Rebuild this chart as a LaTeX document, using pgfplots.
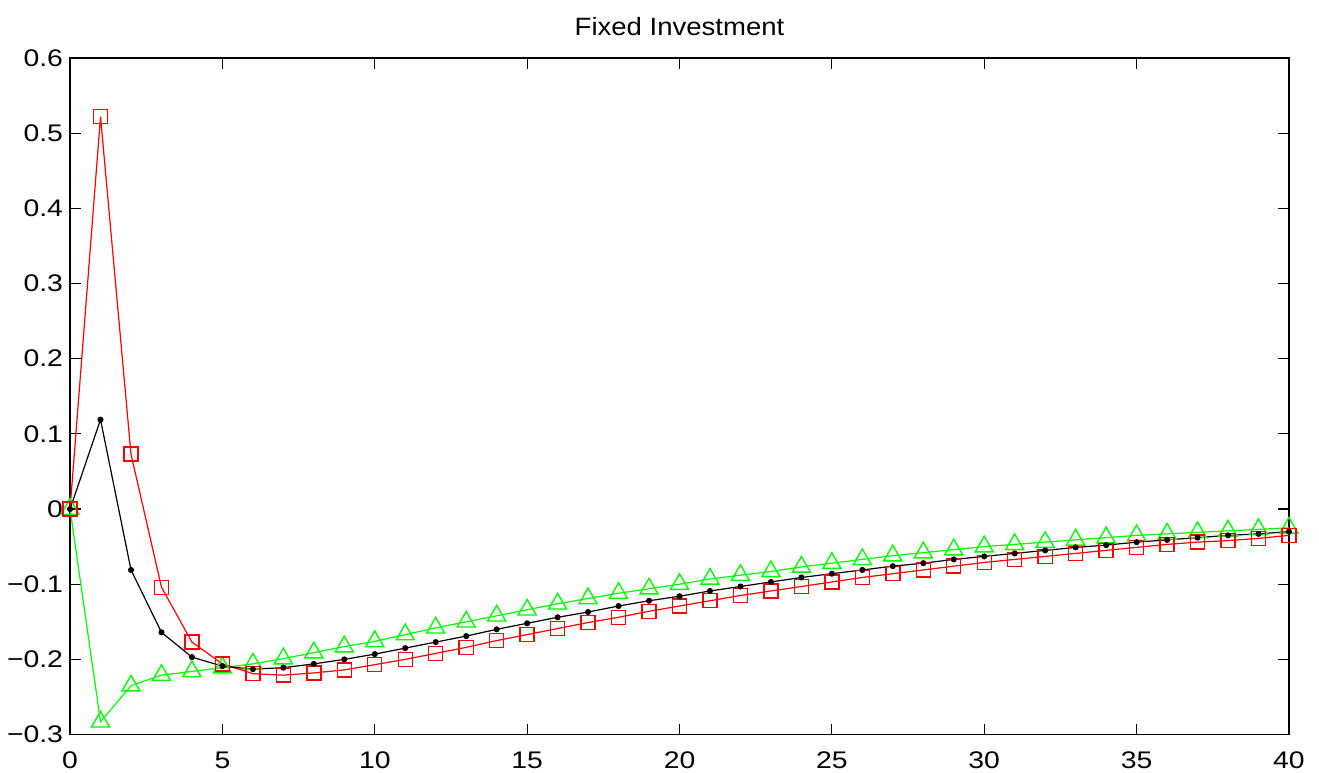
\documentclass[border=0pt]{standalone}
\usepackage{pgfplots}
\pgfplotsset{compat=1.18}
\usepackage{fontspec}
\setmainfont{Liberation Sans}
\newfontfamily\tickfont{Liberation Sans}[FakeStretch=1.18]
\newfontfamily\titlefont{Liberation Sans}[FakeStretch=1.1]
\definecolor{mred}{RGB}{255,0,0}
\definecolor{mgreen}{RGB}{0,255,0}
\begin{document}
\begin{tikzpicture}
\path[use as bounding box] (-35pt,-19pt) rectangle (624pt,367pt);
\begin{axis}[
  at={(0,0)}, anchor=south west,
  scale only axis,
  width=609pt, height=338pt,
  xmin=0, xmax=40, ymin=-0.3, ymax=0.6,
  xtick={0,5,...,40},
  xticklabels={0,5,10,15,20,25,30,35,40},
  ytick={-0.3,-0.2,-0.1,0,0.1,0.2,0.3,0.4,0.5,0.6},
  yticklabels={−0.3,−0.2,−0.1,0,0.1,0.2,0.3,0.4,0.5,0.6},
  tick align=inside,
  major tick length=5.5pt,
  minor tick num=0,
  axis line style={line width=0.8pt},
  every tick/.style={black, line width=0.6pt},
  tick label style={font=\tickfont\fontsize{12}{14}\selectfont},
  /pgf/number format/assume math mode=true,
  xticklabel style={yshift=-5pt},
  title={Fixed Investment},
  title style={font=\titlefont\fontsize{12.5}{14}\selectfont, yshift=1.5pt},
  clip=false,
]
\addplot[mgreen, line width=0.6pt, mark=triangle, mark size=5.2pt, mark options={solid, draw=mgreen, fill=none, line width=0.7pt}] coordinates {
(0,0) (1,-0.283) (2,-0.235) (3,-0.221) (4,-0.216) (5,-0.211) (6,-0.206) (7,-0.199) (8,-0.191) (9,-0.183)
(10,-0.176) (11,-0.167) (12,-0.158) (13,-0.150) (14,-0.142) (15,-0.134) (16,-0.126) (17,-0.119) (18,-0.112) (19,-0.106)
(20,-0.100) (21,-0.093) (22,-0.088) (23,-0.083) (24,-0.077) (25,-0.072) (26,-0.067) (27,-0.062) (28,-0.058) (29,-0.054)
(30,-0.050) (31,-0.047) (32,-0.044) (33,-0.041) (34,-0.038) (35,-0.035) (36,-0.033) (37,-0.031) (38,-0.029) (39,-0.027) (40,-0.025)
};
\addplot[mred, line width=0.6pt, mark=square, mark size=3.5pt, mark options={solid, draw=mred, fill=none, line width=0.7pt}] coordinates {
(0,0) (1,0.522) (2,0.073) (3,-0.104) (4,-0.177) (5,-0.206) (6,-0.219) (7,-0.221) (8,-0.218) (9,-0.214)
(10,-0.207) (11,-0.200) (12,-0.192) (13,-0.184) (14,-0.175) (15,-0.167) (16,-0.159) (17,-0.151) (18,-0.144) (19,-0.136)
(20,-0.129) (21,-0.122) (22,-0.115) (23,-0.109) (24,-0.103) (25,-0.097) (26,-0.091) (27,-0.086) (28,-0.081) (29,-0.076)
(30,-0.071) (31,-0.067) (32,-0.063) (33,-0.059) (34,-0.055) (35,-0.051) (36,-0.047) (37,-0.044) (38,-0.042) (39,-0.039) (40,-0.035)
};
\addplot[black, line width=0.6pt, mark=*, mark size=1.2pt] coordinates {
(0,0) (1,0.119) (2,-0.081) (3,-0.164) (4,-0.197) (5,-0.209) (6,-0.213) (7,-0.211) (8,-0.206) (9,-0.200)
(10,-0.193) (11,-0.185) (12,-0.177) (13,-0.169) (14,-0.160) (15,-0.152) (16,-0.144) (17,-0.137) (18,-0.129) (19,-0.122)
(20,-0.116) (21,-0.109) (22,-0.103) (23,-0.097) (24,-0.091) (25,-0.086) (26,-0.081) (27,-0.076) (28,-0.072) (29,-0.067)
(30,-0.063) (31,-0.059) (32,-0.055) (33,-0.051) (34,-0.048) (35,-0.044) (36,-0.041) (37,-0.038) (38,-0.035) (39,-0.033) (40,-0.030)
};
\end{axis}
\end{tikzpicture}
\end{document}
